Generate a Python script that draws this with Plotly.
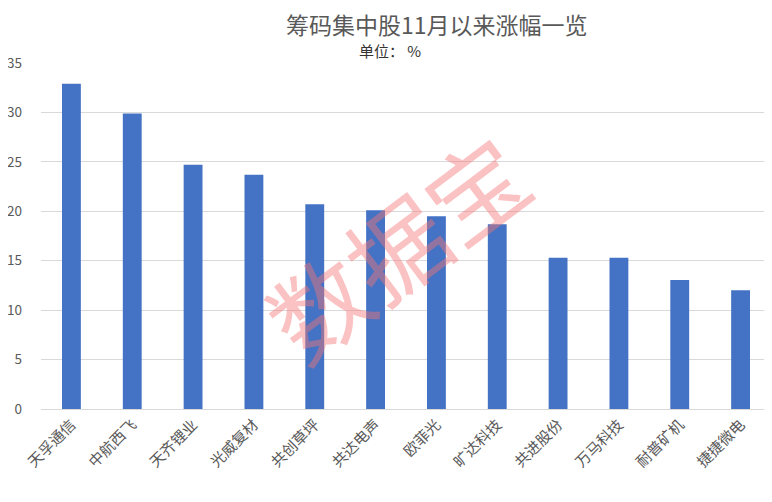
import plotly.graph_objects as go

categories = ["天孚通信", "中航西飞", "天齐锂业", "光威复材", "共创草坪", "共达电声",
              "欧菲光", "旷达科技", "共进股份", "万马科技", "耐普矿机", "捷捷微电"]
values = [32.9, 29.9, 24.7, 23.7, 20.7, 20.1, 19.5, 18.7, 15.3, 15.3, 13.05, 12.0]
y_ticks = [0, 5, 10, 15, 20, 25, 30, 35]

font_family = "Noto Sans CJK SC, Noto Sans, sans-serif"

# page body has an 8px margin; figure coords = screen coords - 8
L, R, T, B = 33, 9, 55, 101
PW, PH = 772 - L - R, 502 - T - B


def px(xs):
    return (xs - 8 - L) / PW


def py(ys):
    return (502 - B - (ys - 8)) / PH


fig = go.Figure()
fig.add_trace(go.Bar(x=categories, y=values, marker_color="#4472C4",
                     marker_line_width=0))

fig.update_layout(
    width=772, height=502,
    margin=dict(l=L, r=R, t=T, b=B),
    paper_bgcolor="white", plot_bgcolor="white",
    bargap=0.69,
    showlegend=False,
    font=dict(family=font_family, color="#595959"),
    xaxis=dict(tickangle=-45, tickfont=dict(size=15, color="#595959"),
               showgrid=False, showline=True, linecolor="#d9d9d9", ticks="",
               automargin=False),
    yaxis=dict(range=[0, 35], tickvals=y_ticks, tickfont=dict(size=13.5, color="#595959"),
               showgrid=True, gridcolor="#d9d9d9", zeroline=False, ticks="",
               ticklabelstandoff=18, automargin=False),
)

fig.add_annotation(text="筹码集中股11月以来涨幅一览", x=px(437), y=py(24),
                   xref="paper", yref="paper", showarrow=False,
                   xanchor="center", yanchor="middle",
                   font=dict(size=23, color="#595959"))
fig.add_annotation(text="单位： %", x=px(390), y=py(50),
                   xref="paper", yref="paper", showarrow=False,
                   xanchor="center", yanchor="middle",
                   font=dict(size=15, color="#333333"))
fig.add_annotation(text="数据宝", x=px(395), y=py(245),
                   xref="paper", yref="paper", showarrow=False, textangle=-37,
                   xanchor="center", yanchor="middle",
                   font=dict(size=98, color="rgba(245,120,120,0.45)"))

fig.write_html("out.html")
